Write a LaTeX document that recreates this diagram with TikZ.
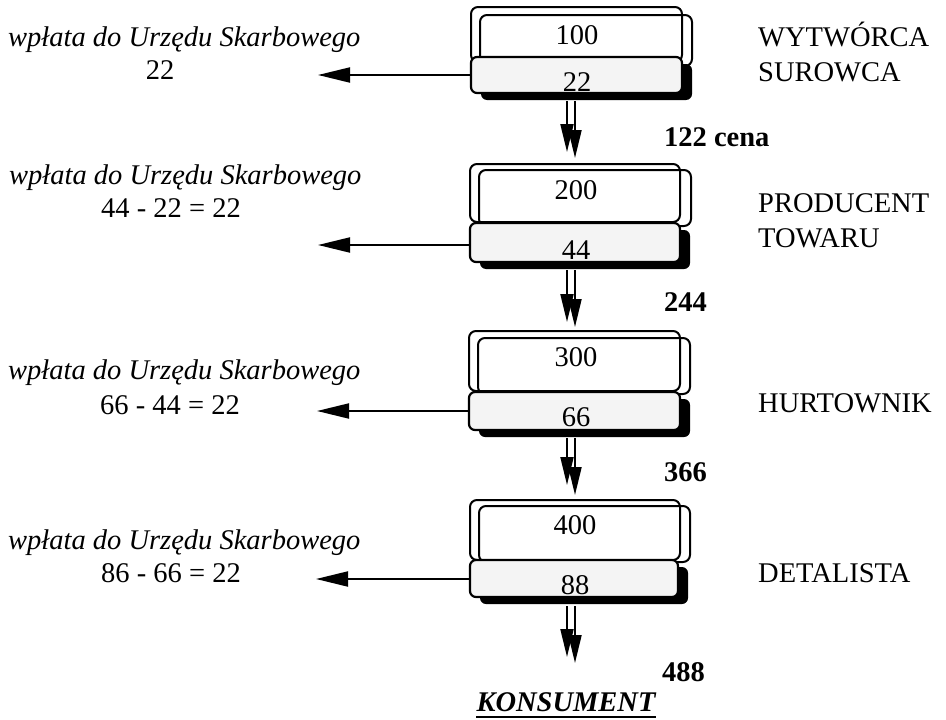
\documentclass[tikz,border=0pt]{standalone}
\usepackage{fontspec}
\setmainfont{Liberation Serif}
\usetikzlibrary{arrows.meta,shadows}
\begin{document}
\begin{tikzpicture}[x=1pt,y=-1pt,
  txt/.style={inner sep=0pt, font=\fontsize{28.5}{34}\selectfont},
  itxt/.style={inner sep=0pt, font=\fontsize{28.5}{34}\selectfont\itshape},
  btxt/.style={inner sep=0pt, font=\fontsize{28.5}{34}\selectfont\bfseries},
  kons/.style={inner sep=0pt, font=\fontsize{28.5}{34}\selectfont\bfseries\itshape},
  frame/.style={draw, line width=2pt, rounded corners=7pt, inner sep=0pt},
  graybox/.style={draw, line width=2.2pt, rounded corners=6pt, fill=gray!9, inner sep=0pt,
     drop shadow={shadow xshift=10pt, shadow yshift=-7pt, fill=black, opacity=1}},
  taxarrow/.style={line width=2pt, -{Triangle[length=32pt,width=15pt]}},
  flow/.style={line width=2pt, -{Triangle[length=28pt,width=13pt]}}
]
\useasboundingbox (0,0) rectangle (946,720);

% ---------- block 1 ----------
\node[frame, minimum width=211pt, minimum height=55pt] (a1) at (576.5,34.5) {};
\node[frame, minimum width=212pt, minimum height=51pt] (b1) at (586,40.5) {};
\node[graybox, minimum width=211pt, minimum height=36pt] (g1) at (576.5,75) {};
\node[txt, anchor=base] (t1) at (577,44.5) {100};
\node[txt, anchor=base] (v1) at (577,91.5) {22};

% ---------- block 2 ----------
\node[frame, minimum width=210pt, minimum height=58pt] (a2) at (575,193) {};
\node[frame, minimum width=212pt, minimum height=56pt] (b2) at (585,198) {};
\node[graybox, minimum width=210pt, minimum height=39pt] (g2) at (575,242.5) {};
\node[txt, anchor=base] (t2) at (576,199.5) {200};
\node[txt, anchor=base] (v2) at (576,259.5) {44};

% ---------- block 3 ----------
\node[frame, minimum width=211pt, minimum height=60pt] (a3) at (574.5,361) {};
\node[frame, minimum width=212pt, minimum height=56pt] (b3) at (584,366) {};
\node[graybox, minimum width=211pt, minimum height=38pt] (g3) at (574.5,411) {};
\node[txt, anchor=base] (t3) at (576,366.5) {300};
\node[txt, anchor=base] (v3) at (576,426.5) {66};

% ---------- block 4 ----------
\node[frame, minimum width=210pt, minimum height=60pt] (a4) at (575,530) {};
\node[frame, minimum width=211pt, minimum height=56pt] (b4) at (584.5,534) {};
\node[graybox, minimum width=208pt, minimum height=37pt] (g4) at (574,578.5) {};
\node[txt, anchor=base] (t4) at (575,534.5) {400};
\node[txt, anchor=base] (v4) at (575,594.5) {88};

% ---------- flow arrows ----------
\coordinate (e1a) at (567,152);
\coordinate (e1b) at (575,158);
\coordinate (e2a) at (567,322);
\coordinate (e2b) at (575,327);
\coordinate (e3a) at (567,485);
\coordinate (e3b) at (575,495);
\coordinate (e4a) at (567,657);
\coordinate (e4b) at (575,663);
\draw[flow] ([shift={(-9.5,7)}]g1.south) -- (e1a);
\draw[flow] ([shift={(-1.5,7)}]g1.south) -- (e1b);
\draw[flow] ([shift={(-8,7)}]g2.south) -- (e2a);
\draw[flow] ([shift={(0,7)}]g2.south) -- (e2b);
\draw[flow] ([shift={(-7.5,7)}]g3.south) -- (e3a);
\draw[flow] ([shift={(0.5,7)}]g3.south) -- (e3b);
\draw[flow] ([shift={(-7,8)}]g4.south) -- (e4a);
\draw[flow] ([shift={(1,8)}]g4.south) -- (e4b);

% ---------- tax arrows ----------
\coordinate (x1) at (318,75);
\coordinate (x2) at (318,245);
\coordinate (x3) at (317,411);
\coordinate (x4) at (316,579);
\draw[taxarrow] (g1.west) -- (x1);
\draw[taxarrow] (g2.west |- x2) -- (x2);
\draw[taxarrow] (g3.west) -- (x3);
\draw[taxarrow] (g4.west |- x4) -- (x4);

% ---------- left texts ----------
\node[itxt, anchor=base west] (l1) at (8,46) {wpłata do Urzędu Skarbowego};
\node[txt, anchor=base] (m1) at (160,79.5) {22};
\node[itxt, anchor=base west] (l2) at (9,184.5) {wpłata do Urzędu Skarbowego};
\node[txt, anchor=base] (m2) at (171,217.5) {44 - 22 = 22};
\node[itxt, anchor=base west] (l3) at (8,379.5) {wpłata do Urzędu Skarbowego};
\node[txt, anchor=base] (m3) at (170,414.5) {66 - 44 = 22};
\node[itxt, anchor=base west] (l4) at (8,549.5) {wpłata do Urzędu Skarbowego};
\node[txt, anchor=base] (m4) at (171,582.5) {86 - 66 = 22};

% ---------- right labels ----------
\node[txt, anchor=base west] (r1a) at (758,46.5) {WYTWÓRCA};
\node[txt, anchor=base west] (r1b) at (758,81.5) {SUROWCA};
\node[txt, anchor=base west] (r2a) at (758,212.5) {PRODUCENT};
\node[txt, anchor=base west] (r2b) at (758,247.5) {TOWARU};
\node[txt, anchor=base west] (r3) at (758,412.5) {HURTOWNIK};
\node[txt, anchor=base west] (r4) at (758,582.5) {DETALISTA};

% ---------- prices ----------
\node[btxt, anchor=base west] (p1) at (664,146.5) {122 cena};
\node[btxt, anchor=base west] (p2) at (664,311.5) {244};
\node[btxt, anchor=base west] (p3) at (664,481.5) {366};
\node[btxt, anchor=base west] (p4) at (662,681.5) {488};

% ---------- consumer ----------
\node[kons, anchor=base] (k) at (566,711.5) {KONSUMENT};
\draw[line width=2pt] ([yshift=-5.5pt]k.base west) -- ([yshift=-5.5pt]k.base east);
\end{tikzpicture}
\end{document}
